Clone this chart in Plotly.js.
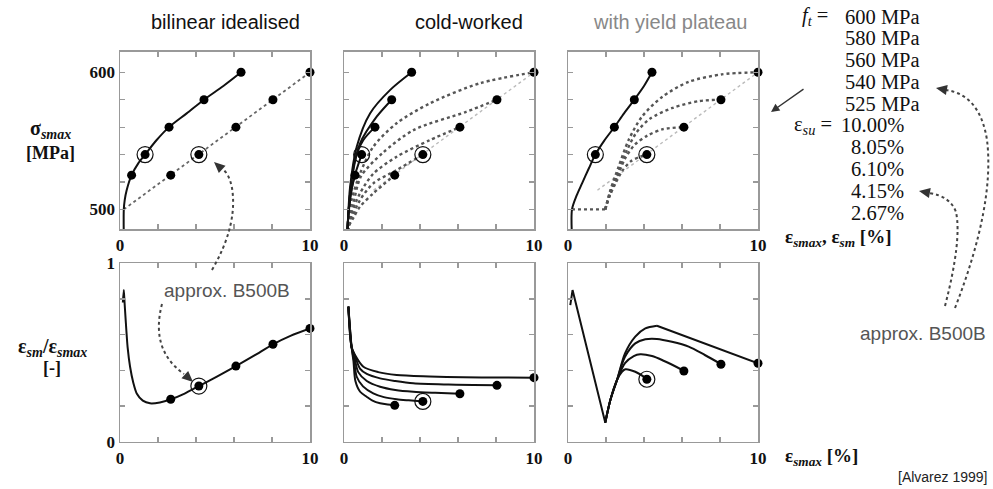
<!DOCTYPE html>
<html><head><meta charset="utf-8">
<script src="https://cdn.plot.ly/plotly-3.0.1.min.js"></script>
<style>html,body{margin:0;padding:0;background:#fff}#chart{width:993px;height:489px}</style>
</head><body><div id="chart"></div>
<script>
// ---------- data ----------
const eps_su = [2.67, 4.15, 6.10, 8.05, 10.00];
const f_t = [525, 540, 560, 580, 600];

// Panel A: bilinear idealised
const A_sm = [0.61, 1.32, 2.58, 4.42, 6.37];
const A_curve_x = [0.20, 0.20, 0.25, 0.35, 0.61, 0.96, 1.32, 1.93, 2.58, 3.51, 4.42, 5.44, 6.37];
const A_curve_y = [480, 500, 507, 514, 525, 533.6, 540, 550.6, 560, 570, 580, 590, 600];
const A_bilin_x = [0.20, 10.0];
const A_bilin_y = [500, 600];

// Panel B: cold-worked
const B_sm = [0.58, 0.93, 1.63, 2.51, 3.56];
const B_solid_x = [
  [0.17, 0.20, 0.32, 0.58],
  [0.17, 0.20, 0.28, 0.49, 0.93],
  [0.17, 0.20, 0.32, 0.58, 1.02, 1.63],
  [0.17, 0.20, 0.40, 0.84, 1.72, 2.51],
  [0.17, 0.20, 0.32, 0.67, 1.37, 2.42, 3.56]
];
const B_solid_y = [
  [480, 490, 509, 525],
  [480, 490, 502, 521, 540],
  [480, 490, 511.7, 536, 550.6, 560],
  [480, 490, 521, 548, 567.6, 580],
  [480, 490, 516.5, 545.7, 570, 587, 600]
];
const B_dot_x = [
  [0.17, 0.23, 0.50, 0.84, 1.54, 2.67],
  [0.17, 0.23, 0.45, 0.84, 1.54, 2.77, 4.15],
  [0.17, 0.23, 0.40, 0.84, 1.54, 2.77, 4.53, 6.10],
  [0.17, 0.23, 0.49, 0.89, 2.02, 3.68, 6.40, 8.05],
  [0.17, 0.23, 0.40, 0.84, 1.54, 2.77, 4.53, 7.16, 10.0]
];
const B_dot_y = [
  [480, 487, 494, 502, 511.7, 525],
  [480, 487, 495, 506.8, 519, 528.7, 540],
  [480, 487, 497, 511.7, 526, 538.4, 550.6, 560],
  [480, 487, 504, 524, 541, 558, 571, 580],
  [480, 487, 506.8, 526, 545.7, 562.8, 577.4, 592, 600]
];
const BC_grey_x = [1.55, 10.0];
const BC_grey_y = [514, 600];

// Panel C: with yield plateau
const C_su = [4.15, 6.10, 8.05, 10.00];
const C_ft = [540, 560, 580, 600];
const C_sm = [1.44, 2.44, 3.49, 4.42];
const C_curve_x = [0.21, 0.21, 0.45, 0.74, 1.10, 1.44, 1.90, 2.44, 2.95, 3.49, 4.00, 4.42];
const C_curve_y = [480, 500, 510, 519, 530, 540, 550, 560, 570, 580, 590, 600];
const C_plateau_x = [0.21, 1.96];
const C_plateau_y = [500, 500];
const C_dot_x = [
  [1.96, 2.20, 2.50, 2.85, 3.30, 3.80, 4.19],
  [1.96, 2.23, 2.60, 3.00, 3.50, 4.20, 5.00, 6.14],
  [1.96, 2.23, 2.66, 3.10, 3.60, 4.30, 5.50, 6.90, 8.07],
  [1.96, 2.23, 2.66, 3.19, 3.89, 4.95, 6.35, 8.10, 10.0]
];
const C_dot_y = [
  [500, 510, 519, 528, 535, 538.5, 540],
  [500, 512, 524, 537, 547, 554, 558.5, 560],
  [500, 513, 528, 543, 556, 566, 574, 579, 580],
  [500, 514, 531, 550.6, 567.6, 582, 593, 598.5, 600]
];

// Panel D: ratio, bilinear
const D_curve_x = [0.15, 0.20, 0.24, 0.30, 0.40, 0.53, 0.70, 0.88, 1.20, 1.58, 2.10, 2.68, 3.40, 4.15, 5.10, 6.10, 7.10, 8.05, 9.00, 10.0];
const D_curve_y = [0.78, 0.85, 0.78, 0.68, 0.53, 0.42, 0.33, 0.27, 0.23, 0.215, 0.22, 0.238, 0.27, 0.312, 0.365, 0.424, 0.485, 0.546, 0.595, 0.635];
const D_ratio = [0.238, 0.312, 0.424, 0.546, 0.635];

// Panel E: ratio, cold-worked
const E_x = [
  [0.23, 0.40, 0.50, 0.60, 0.85, 1.19, 1.50, 1.90, 2.30, 2.68],
  [0.23, 0.40, 0.52, 0.67, 1.00, 1.54, 2.10, 2.77, 3.40, 4.17],
  [0.23, 0.40, 0.55, 0.75, 1.20, 1.90, 2.70, 3.65, 4.80, 6.10],
  [0.23, 0.40, 0.58, 0.84, 1.20, 1.90, 2.70, 3.65, 5.50, 8.07],
  [0.23, 0.40, 0.58, 1.02, 1.80, 2.77, 4.50, 6.28, 8.20, 10.0]
];
const E_y = [
  [0.757, 0.53, 0.45, 0.34, 0.28, 0.252, 0.23, 0.215, 0.208, 0.204],
  [0.757, 0.53, 0.46, 0.364, 0.31, 0.271, 0.25, 0.238, 0.232, 0.226],
  [0.757, 0.53, 0.47, 0.39, 0.34, 0.308, 0.29, 0.28, 0.274, 0.269],
  [0.757, 0.53, 0.48, 0.41, 0.38, 0.355, 0.34, 0.327, 0.32, 0.316],
  [0.757, 0.53, 0.486, 0.42, 0.39, 0.374, 0.366, 0.361, 0.36, 0.359]
];
const E_ratio = [0.204, 0.226, 0.269, 0.316, 0.359];

// Panel F: ratio, yield plateau
const F_drop_x = [0.12, 0.24, 1.96];
const F_drop_y = [0.766, 0.85, 0.107];
const F_x = [
  [1.96, 2.23, 2.58, 2.84, 3.02, 3.54, 4.19],
  [1.96, 2.23, 2.58, 3.00, 3.46, 3.80, 4.42, 4.95, 6.14],
  [1.96, 2.23, 2.58, 3.00, 3.54, 4.07, 4.68, 5.47, 6.35, 7.20, 8.07],
  [1.96, 2.23, 2.58, 3.00, 3.54, 4.07, 4.68]
];
const F_y = [
  [0.107, 0.234, 0.346, 0.392, 0.406, 0.392, 0.35],
  [0.107, 0.234, 0.346, 0.44, 0.48, 0.49, 0.48, 0.458, 0.396],
  [0.107, 0.234, 0.346, 0.476, 0.551, 0.574, 0.576, 0.56, 0.533, 0.486, 0.434],
  [0.107, 0.234, 0.346, 0.495, 0.589, 0.635, 0.65]
];
const F_fall_x = [4.68, 8.10, 10.0];
const F_fall_y = [0.65, 0.514, 0.44];
const F_ratio = [0.35, 0.396, 0.434, 0.44];

// ---------- styling helpers ----------
const W = 993, H = 489;
const SOLID = {color: '#111', width: 2, shape: 'spline', smoothing: 0.8};
const LIN = {color: '#111', width: 2};
const DOT = {color: '#555', width: 2.4, dash: 'dot', shape: 'spline', smoothing: 0.8};
const GREY = {color: '#bbb', width: 1.4, dash: 'dot'};
const traces = [];
function ln(ax, x, y, line) {
  traces.push({type: 'scatter', mode: 'lines', x: x, y: y, xaxis: 'x' + ax, yaxis: 'y' + ax,
    line: line, hoverinfo: 'skip', showlegend: false});
}
function pts(ax, x, y) {
  traces.push({type: 'scatter', mode: 'markers', x: x, y: y, xaxis: 'x' + ax, yaxis: 'y' + ax,
    marker: {color: '#000', size: 9}, hoverinfo: 'skip', showlegend: false, cliponaxis: false});
}
function ring(ax, x, y) {
  traces.push({type: 'scatter', mode: 'markers', x: [x], y: [y], xaxis: 'x' + ax, yaxis: 'y' + ax,
    marker: {symbol: 'circle-open', color: '#111', size: 16, line: {width: 1.2, color: '#111'}},
    hoverinfo: 'skip', showlegend: false, cliponaxis: false});
}

// Panel A (1)
ln('', A_bilin_x, A_bilin_y, {color: '#666', width: 1.8, dash: 'dot'});
ln('', A_curve_x, A_curve_y, SOLID);
pts('', A_sm, f_t); pts('', eps_su, f_t);
ring('', A_sm[1], f_t[1]); ring('', eps_su[1], f_t[1]);
// Panel B (2)
ln('2', BC_grey_x, BC_grey_y, GREY);
B_dot_x.forEach((x, i) => ln('2', x, B_dot_y[i], DOT));
B_solid_x.forEach((x, i) => ln('2', x, B_solid_y[i], SOLID));
pts('2', B_sm, f_t); pts('2', eps_su, f_t);
ring('2', B_sm[1], f_t[1]); ring('2', eps_su[1], f_t[1]);
// Panel C (3)
ln('3', BC_grey_x, BC_grey_y, GREY);
ln('3', C_plateau_x, C_plateau_y, {color: '#555', width: 2.4, dash: 'dot'});
C_dot_x.forEach((x, i) => ln('3', x, C_dot_y[i], DOT));
ln('3', C_curve_x, C_curve_y, SOLID);
pts('3', C_sm, C_ft); pts('3', C_su, C_ft);
ring('3', C_sm[0], C_ft[0]); ring('3', C_su[0], C_ft[0]);
// Panel D (4)
ln('4', D_curve_x, D_curve_y, {color: '#111', width: 2, shape: 'spline', smoothing: 0.6});
pts('4', eps_su, D_ratio);
ring('4', eps_su[1], D_ratio[1]);
// Panel E (5)
E_x.forEach((x, i) => ln('5', x, E_y[i], SOLID));
pts('5', eps_su, E_ratio);
ring('5', eps_su[1], E_ratio[1]);
// Panel F (6)
ln('6', F_drop_x, F_drop_y, LIN);
F_x.forEach((x, i) => ln('6', x, F_y[i], SOLID));
ln('6', F_fall_x, F_fall_y, LIN);
pts('6', C_su, F_ratio);
ring('6', C_su[0], F_ratio[0]);

// ---------- layout ----------
const XD = [[120, 310], [344, 534], [568, 758]];
const YD = [[51.7, 229.3], [263.3, 441.7]];
const tickFont = {family: 'Liberation Serif', size: 17, color: '#111', weight: 'bold'};
const layout = {width: W, height: H, margin: {l: 0, r: 0, t: 0, b: 0},
  paper_bgcolor: '#fff', plot_bgcolor: '#fff', showlegend: false, annotations: [], shapes: []};
for (let i = 0; i < 6; i++) {
  const col = i % 3, row = i < 3 ? 0 : 1;
  const n = i === 0 ? '' : String(i + 1);
  const common = {ticks: 'inside', ticklen: 5, tickwidth: 1.2, tickcolor: '#999', showline: true,
    linecolor: '#999', linewidth: 1.5, mirror: 'ticks', showgrid: false, zeroline: false,
    tickfont: tickFont, fixedrange: true};
  layout['xaxis' + n] = Object.assign({}, common, {
    domain: [XD[col][0] / W, XD[col][1] / W], anchor: 'y' + n, range: [0, 10],
    tickvals: [0, 2, 4, 6, 8, 10], ticktext: ['0', '', '', '', '', '10']});
  layout['yaxis' + n] = Object.assign({}, common, {
    domain: [1 - YD[row][1] / H, 1 - YD[row][0] / H], anchor: 'x' + n,
    range: row ? [0, 1] : [485.5, 615],
    tickvals: row ? [0, 0.2, 0.4, 0.6, 0.8, 1] : [500, 520, 540, 560, 580, 600],
    ticktext: row ? ['0', '', '', '', '', '1'] : ['500', '', '', '', '', '600'],
    showticklabels: col === 0});
}

function txt(text, px, py, font, xanchor) {
  layout.annotations.push({text: text, x: px / W, y: 1 - py / H, xref: 'paper', yref: 'paper',
    xanchor: xanchor || 'center', yanchor: 'middle', showarrow: false, font: font});
}
const sans = (s, c) => ({family: 'Liberation Sans', size: s, color: c || '#111'});
const serif = (s, c) => ({family: 'Liberation Serif', size: s, color: c || '#111'});
const serifB = (s) => ({family: 'Liberation Serif', size: s, color: '#111', weight: 'bold'});

txt('bilinear idealised', 225, 22, sans(20));
txt('cold-worked', 469, 22, sans(20));
txt('with yield plateau', 670, 22, sans(20, '#888'));

txt('σ<sub><i>smax</i></sub>', 50, 129, serifB(20));
txt('[MPa]', 50, 153, serifB(18));
txt('ε<sub><i>sm</i></sub>/ε<sub><i>smax</i></sub>', 52, 347, serifB(20));
txt('[-]', 52, 368, serifB(18));
txt('ε<sub><i>smax</i></sub>, ε<sub><i>sm</i></sub> [%]', 783, 238, serifB(19), 'left');
txt('ε<sub><i>smax</i></sub> [%]', 783, 457, serifB(19), 'left');

const mpa = ['600 MPa', '580 MPa', '560 MPa', '540 MPa', '525 MPa'];
const pct = ['10.00%', '8.05%', '6.10%', '4.15%', '2.67%'];
const rowsY = [16.5, 38.3, 60.1, 81.9, 103.7, 125.5, 147.3, 169.1, 190.9, 212.7];
const LF = serif(20.5);
txt('<i>f<sub>t</sub></i> =', 830, rowsY[0], LF, 'right');
mpa.forEach((t, i) => txt(t, 843, rowsY[i], LF, 'left'));
txt('ε<sub><i>su</i></sub> =', 834, rowsY[5], LF, 'right');
pct.forEach((t, i) => txt(t, 906, rowsY[5 + i], LF, 'right'));

txt('approx. B500B', 227, 290, sans(19, '#555'));
txt('approx. B500B', 923, 333, sans(19, '#555'));
txt('[Alvarez 1999]', 990, 477, sans(14, '#222'), 'right');

// arrows
const P = p => (p[0] / W) + ',' + (1 - p[1] / H);
function path(parts) { return parts.map(p => typeof p === 'string' ? p : P(p)).join(' '); }
function dotted(parts) {
  layout.shapes.push({type: 'path', xref: 'paper', yref: 'paper', path: path(parts),
    line: {color: '#444', width: 2, dash: 'dot'}});
}
function head(tip, from, L, w) {
  L = L || 11; w = w || 5;
  const dx = tip[0] - from[0], dy = tip[1] - from[1], n = Math.hypot(dx, dy);
  const ux = dx / n, uy = dy / n, bx = tip[0] - ux * L, by = tip[1] - uy * L;
  const p1 = [bx - uy * w, by + ux * w], p2 = [bx + uy * w, by - ux * w];
  layout.shapes.push({type: 'path', xref: 'paper', yref: 'paper',
    path: 'M' + P(tip) + ' L' + P(p1) + ' L' + P(p2) + ' Z', fillcolor: '#333', line: {width: 0}});
}
dotted(['M', [212, 270], 'Q', [238, 225], [232, 188], 'Q', [229, 173], [222, 169]]);
head([214, 162], [224, 171]);
dotted(['M', [162, 304], 'Q', [150, 350], [184, 374]]);
head([193, 382], [183, 373]);
dotted(['M', [955, 308], 'Q', [995, 205], [987, 140], 'Q', [980, 95], [946, 90]]);
head([936, 88], [947, 90]);
dotted(['M', [945, 306], 'Q', [962, 240], [956, 212], 'Q', [950, 196], [929, 193]]);
head([919, 191], [930, 193]);
layout.annotations.push({x: 771 / W, y: 1 - 112 / H, xref: 'paper', yref: 'paper', text: '',
  showarrow: true, ax: 34, ay: -24, arrowhead: 2, arrowsize: 1.2, arrowwidth: 1.4, arrowcolor: '#333'});

Plotly.newPlot('chart', traces, layout, {staticPlot: true, displayModeBar: false});
</script>
</body></html>
